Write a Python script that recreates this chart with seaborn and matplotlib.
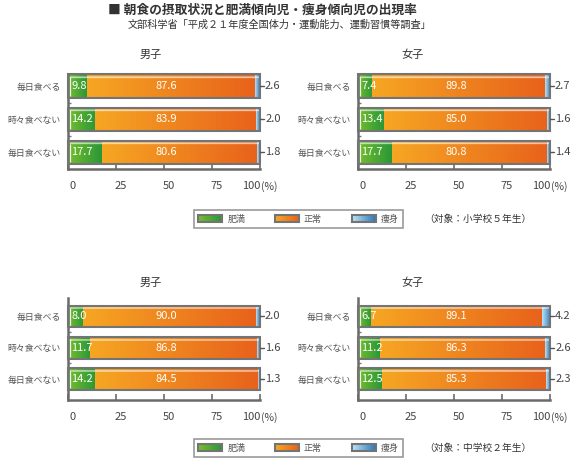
import numpy as np
import pandas as pd
import matplotlib
matplotlib.use("Agg")
import matplotlib.pyplot as plt
import matplotlib.transforms as mtrans
import seaborn as sns
from matplotlib.colors import to_rgb
from matplotlib.legend_handler import HandlerBase
from matplotlib.patches import Rectangle

# ---------------- data ----------------
categories = ["毎日食べる", "時々食べない", "毎日食べない"]

# 小学校5年生
e_boys_obese = [9.8, 14.2, 17.7]
e_boys_normal = [87.6, 83.9, 80.6]
e_boys_thin = [2.6, 2.0, 1.8]
e_girls_obese = [7.4, 13.4, 17.7]
e_girls_normal = [89.8, 85.0, 80.8]
e_girls_thin = [2.7, 1.6, 1.4]

# 中学校2年生
j_boys_obese = [8.0, 11.7, 14.2]
j_boys_normal = [90.0, 86.8, 84.5]
j_boys_thin = [2.0, 1.6, 1.3]
j_girls_obese = [6.7, 11.2, 12.5]
j_girls_normal = [89.1, 86.3, 85.3]
j_girls_thin = [4.2, 2.6, 2.3]

xticks = [0, 25, 50, 75, 100]
legend_labels = ["肥満", "正常", "痩身"]

# ---------------- style ----------------
sns.set_theme(style="white")
plt.rcParams["font.family"] = ["Noto Sans CJK JP", "DejaVu Sans"]

GREEN = ("#74bd2c", "#2a9738")
ORANGE = ("#f6a623", "#e8621b")
BLUE = ("#bfe0f1", "#2b7bbf")
EDGE = "#747474"
SPINE = "#6b6b6b"
TICKPAD = 8.5

W, H = 575, 459
fig = plt.figure(figsize=(W / 100, H / 100), dpi=100)


def axpos(x0, x1, y0, y1):
    return [x0 / W, 1 - y1 / H, (x1 - x0) / W, (y1 - y0) / H]


def grad_img(c0, c1, n=96, rows=48):
    t = np.linspace(0, 1, n)
    a = np.array(to_rgb(c0))
    b = np.array(to_rgb(c1))
    row = a[None, :] * (1 - t[:, None]) + b[None, :] * t[:, None]
    img = np.repeat(row[None, :, :], rows, axis=0)
    img[5:8] = img[5:8] * 0.3 + 0.7
    return img


def shift(px):
    return mtrans.ScaledTranslation(px / 100, 0, fig.dpi_scale_trans)


def panel(rect, obese, normal, thin, ylim, width):
    ax = fig.add_axes(rect)
    df = pd.DataFrame({"cat": categories, "obese": obese,
                       "normal": normal, "thin": thin})
    df["c2"] = df["obese"] + df["normal"]
    df["c3"] = df["c2"] + df["thin"]
    sns.barplot(data=df, x="c3", y="cat", orient="h", color=BLUE[1],
                width=width, errorbar=None, ax=ax)
    sns.barplot(data=df, x="c2", y="cat", orient="h", color=ORANGE[1],
                width=width, errorbar=None, ax=ax)
    sns.barplot(data=df, x="obese", y="cat", orient="h", color=GREEN[1],
                width=width, errorbar=None, ax=ax)
    patches = list(ax.patches)
    n = len(categories)
    for p in patches:
        p.set_facecolor("none")
        p.set_edgecolor("none")
    for i in range(n):
        outline = patches[i]
        y0 = outline.get_y()
        h = outline.get_height()
        yc = y0 + h / 2
        segs = [(0, df["obese"][i], GREEN),
                (df["obese"][i], df["c2"][i], ORANGE),
                (df["c2"][i], df["c3"][i], BLUE)]
        for s0, s1, cols in segs:
            ax.imshow(grad_img(*cols), extent=[s0, s1, y0 + h, y0],
                      origin="upper", aspect="auto", zorder=2,
                      interpolation="bilinear")
        ax.vlines(1.0, y0 + h * 0.12, y0 + h * 0.92, color="white",
                  lw=0.9, alpha=0.85, zorder=3)
        outline.set_edgecolor(EDGE)
        outline.set_linewidth(1.5)
        outline.set_zorder(5)
        outline.set_clip_on(False)
        ax.text(1.6, yc, f"{df['obese'][i]:.1f}", ha="left", va="center",
                color="white", fontsize=8, zorder=6)
        ax.text(51, yc, f"{df['normal'][i]:.1f}", ha="center", va="center",
                color="white", fontsize=8, zorder=6)
        ax.plot([df["c3"][i], df["c3"][i] + 2.2], [yc, yc], color="#555",
                lw=1, clip_on=False, zorder=6)
        ax.text(df["c3"][i] + 2.6, yc, f"{df['thin'][i]:.1f}", ha="left",
                va="center", color="#444", fontsize=8, clip_on=False)
    ax.set_xlim(0, 100)
    ax.set_ylim(*ylim)
    ax.set_xlabel("")
    ax.set_ylabel("")
    for s in ["top", "right"]:
        ax.spines[s].set_visible(False)
    for s in ["left", "bottom"]:
        ax.spines[s].set_color(SPINE)
        ax.spines[s].set_linewidth(1.8)
    ax.set_xticks(xticks)
    ax.set_xticklabels([str(v) for v in xticks])
    ax.tick_params(axis="x", direction="in", length=4, width=1.2,
                   color=SPINE, labelsize=8, labelcolor="#444", pad=TICKPAD,
                   bottom=True)
    ax.tick_params(axis="y", length=0, pad=5, labelsize=6.4,
                   labelcolor="#555", left=True)
    ax.set_yticks([0.5, 1.5], minor=True)
    ax.tick_params(axis="y", which="minor", direction="in", length=2.5,
                   width=1, color="#777", left=True)
    labs = ax.get_xticklabels()
    for lab in labs[:-1]:
        lab.set_transform(lab.get_transform() + shift(5))
    labs[-1].set_ha("right")
    trans, va, _ = ax.get_xaxis_text1_transform(TICKPAD)
    ax.text(xticks[-1], 0, "(%)", ha="left", va=va, fontsize=7.5,
            color="#444", transform=trans + shift(1))
    return ax


top_ylim = (2.5, -0.37)
bot_ylim = (2.67, -0.59)
panel(axpos(68, 260, 74, 169), e_boys_obese, e_boys_normal, e_boys_thin, top_ylim, 0.71)
panel(axpos(358, 550, 74, 169), e_girls_obese, e_girls_normal, e_girls_thin, top_ylim, 0.71)
panel(axpos(68, 260, 298, 400), j_boys_obese, j_boys_normal, j_boys_thin, bot_ylim, 0.70)
panel(axpos(358, 550, 298, 400), j_girls_obese, j_girls_normal, j_girls_thin, bot_ylim, 0.70)

# titles
fig.text(262.5 / W, 1 - 10 / H, "■ 朝食の摂取状況と肥満傾向児・痩身傾向児の出現率",
         ha="center", va="center", fontsize=9.2, fontweight="bold", color="#333")
fig.text(279 / W, 1 - 25 / H, "文部科学省「平成２１年度全国体力・運動能力、運動習慣等調査」",
         ha="center", va="center", fontsize=7.3, color="#333")
for x, y, s in [(151, 55, "男子"), (413, 55, "女子"), (151, 283, "男子"), (413, 283, "女子")]:
    fig.text(x / W, 1 - y / H, s, ha="center", va="center", fontsize=8, color="#333")


# legend with gradient swatches
class GradHandler(HandlerBase):
    def __init__(self, cols):
        super().__init__()
        self.cols = cols

    def create_artists(self, legend, orig_handle, xdescent, ydescent,
                       width, height, fontsize, trans):
        arts = []
        n = 16
        a = np.array(to_rgb(self.cols[0]))
        b = np.array(to_rgb(self.cols[1]))
        for k in range(n):
            f = k / (n - 1)
            c = a * (1 - f) + b * f
            arts.append(Rectangle((-xdescent + width * k / n, -ydescent),
                                  width / n * 1.08, height, facecolor=c,
                                  edgecolor="none", transform=trans))
        arts.append(Rectangle((-xdescent, -ydescent), width, height,
                              facecolor="none", edgecolor=EDGE, lw=1.5,
                              transform=trans))
        return arts


for yc, note in [(219, "（対象：小学校５年生）"), (448, "（対象：中学校２年生）")]:
    handles = [Rectangle((0, 0), 1, 1) for _ in legend_labels]
    hmap = {h: GradHandler(c) for h, c in zip(handles, [GREEN, ORANGE, BLUE])}
    leg = fig.legend(handles, legend_labels, handler_map=hmap, loc="center",
                     bbox_to_anchor=(298.5 / W, 1 - yc / H), ncol=3,
                     fontsize=6.5, frameon=True, fancybox=False,
                     edgecolor="#808080", handlelength=2.66, handleheight=0.8,
                     handletextpad=0.55, columnspacing=3.3, borderpad=0.5,
                     labelcolor="#555")
    leg.get_frame().set_linewidth(1.2)
    fig.text(478 / W, 1 - yc / H, note, ha="center", va="center",
             fontsize=7, color="#333")

fig.savefig("out.png", dpi=100)
